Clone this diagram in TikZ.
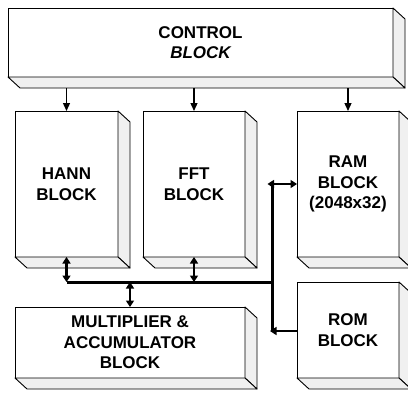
\documentclass[tikz,border=0pt]{standalone}
\usepackage{fontspec}
\setmainfont{Liberation Sans}
\usetikzlibrary{calc,arrows.meta}
\tikzset{
  front/.style={draw=black, line width=0.9pt, fill=white, outer sep=0pt, inner sep=0pt,
    align=center, font=\bfseries\fontsize{17}{20.5}\selectfont},
  face/.style={draw=black, line width=0.9pt, fill=black!6, line join=round},
  ctlarrow/.style={line width=1.3pt, -{Triangle[length=8pt,width=7pt]}},
  busarrow/.style={line width=2.4pt, {Triangle[length=6.5pt,width=8pt]}-{Triangle[length=6.5pt,width=8pt]}},
  romarrow/.style={line width=2.4pt, -{Triangle[length=6.5pt,width=8pt]}},
  busline/.style={line width=3pt}
}
\begin{document}
\begin{tikzpicture}[x=1pt,y=-1pt]
\clip (0,0) rectangle (408,394);
\fill[white] (0,0) rectangle (408,394);
\def\dx{12}\def\dy{11}
% front faces
\node[front, minimum width=385pt, minimum height=69pt] (ctrl) at (200.5,42.5) {CONTROL\\[-1pt]\itshape BLOCK};
\node[front, minimum width=103pt, minimum height=146pt] (hann) at (66.5,184) {HANN\\BLOCK};
\node[front, minimum width=102pt, minimum height=146pt] (fft) at (194,184) {FFT\\BLOCK};
\node[front, minimum width=102pt, minimum height=146pt] (ram) at (348,184) {RAM\\BLOCK\\(2048x32)};
\node[front, minimum width=102pt, minimum height=96pt] (rom) at (348,330) {ROM\\BLOCK};
\node[front, minimum width=230pt, minimum height=71pt] (mac) at (130,342.5) {MULTIPLIER \&\\ACCUMULATOR\\BLOCK};
% side and bottom faces
\foreach \n in {ctrl,hann,fft,ram,rom,mac}{
  \draw[face] (\n.north east) -- ++(\dx,\dy) -- ($(\n.south east)+(\dx,\dy)$) -- (\n.south east) -- cycle;
  \draw[face] (\n.south west) -- ++(\dx,\dy) -- ($(\n.south east)+(\dx,\dy)$) -- (\n.south east) -- cycle;
}
% control arrows
\foreach \n in {hann,fft,ram}{
  \draw[ctlarrow] ($(\n.north |- ctrl.south)+(0,\dy)$) -- (\n.north);
}
% bus
\coordinate (busL) at (66.5,282);
\coordinate (busR) at (272,282);
\coordinate (busT) at (272,184);
\coordinate (busB) at (272,331);
\coordinate (ramL) at (267.5,184);
\draw[busline] (busL) -- (busR);
\draw[busline] (busT) -- (busB);
\draw[busarrow] (hann.south) -- (hann.south |- busL);
\draw[busarrow] (fft.south) -- (fft.south |- busL);
\draw[busarrow] (mac.north) -- (mac.north |- busL);
\draw[busarrow] (ramL) -- (ram.west);
\draw[romarrow] (rom.west |- busB) -- ($(busB)+(-2,0)$);
\end{tikzpicture}
\end{document}
